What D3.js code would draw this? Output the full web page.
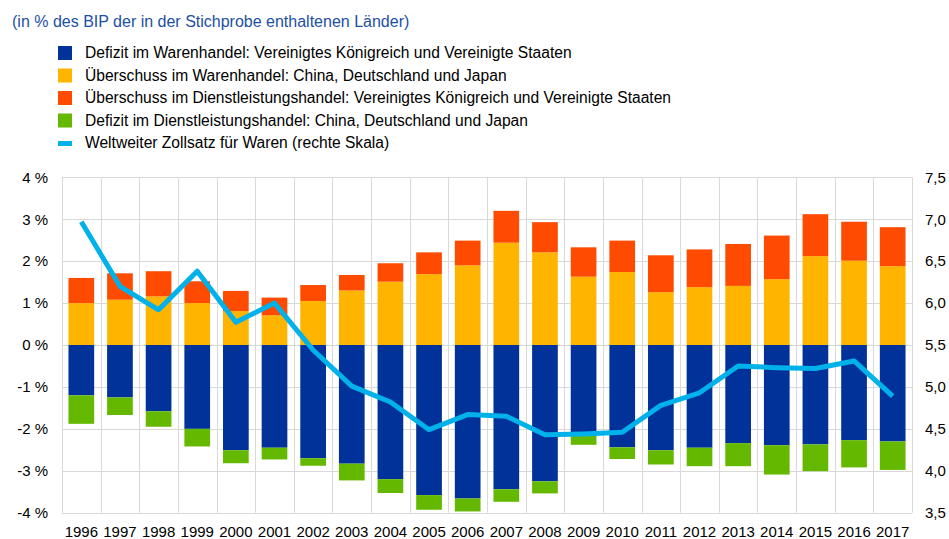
<!DOCTYPE html>
<meta charset="utf-8">
<script src="https://d3js.org/d3.v7.min.js"></script>
<style>
  body { margin: 0; background: #fff; }
  text { font-family: "Liberation Sans", Arial, sans-serif; }
</style>
<div id="chart"></div>
<script>
    // Daten
    const years = ["1996","1997","1998","1999","2000","2001","2002","2003","2004","2005","2006",
                   "2007","2008","2009","2010","2011","2012","2013","2014","2015","2016","2017"];
    const warenDefizit = [-1.20,-1.25,-1.58,-2.00,-2.51,-2.45,-2.70,-2.83,-3.20,-3.58,-3.66,
                          -3.44,-3.25,-2.16,-2.44,-2.51,-2.45,-2.34,-2.39,-2.37,-2.27,-2.30];
    const warenUeberschuss = [1.00,1.08,1.16,1.00,0.81,0.71,1.05,1.30,1.51,1.69,1.90,
                              2.44,2.21,1.63,1.74,1.26,1.38,1.41,1.57,2.12,2.01,1.88];
    const dienstUeberschuss = [0.60,0.63,0.60,0.52,0.48,0.42,0.38,0.37,0.44,0.52,0.59,
                               0.76,0.72,0.70,0.75,0.88,0.90,1.00,1.04,1.00,0.93,0.93];
    const dienstDefizit = [-0.68,-0.42,-0.37,-0.42,-0.31,-0.28,-0.18,-0.40,-0.33,-0.35,-0.31,
                           -0.30,-0.29,-0.22,-0.28,-0.34,-0.44,-0.55,-0.70,-0.64,-0.65,-0.68];
    const zollsatz = [6.97,6.20,5.92,6.38,5.77,6.00,5.44,5.01,4.82,4.49,4.67,
                      4.65,4.43,4.44,4.46,4.78,4.93,5.25,5.23,5.22,5.31,4.89];
    const leftTicks = [-4,-3,-2,-1,0,1,2,3,4];
    const rightTicks = [3.5,4.0,4.5,5.0,5.5,6.0,6.5,7.0,7.5];

    const title = "(in % des BIP der in der Stichprobe enthaltenen Länder)";
    const legendItems = [
        {label: "Defizit im Warenhandel: Vereinigtes Königreich und Vereinigte Staaten", color: "#003299", type: "rect"},
        {label: "Überschuss im Warenhandel: China, Deutschland und Japan", color: "#ffb400", type: "rect"},
        {label: "Überschuss im Dienstleistungshandel: Vereinigtes Königreich und Vereinigte Staaten", color: "#ff4b00", type: "rect"},
        {label: "Defizit im Dienstleistungshandel: China, Deutschland und Japan", color: "#65b800", type: "rect"},
        {label: "Weltweiter Zollsatz für Waren (rechte Skala)", color: "#00b1ea", type: "line"}
    ];

    const W = 949, H = 539;
    const plot = {left: 62, right: 912, top: 177.3, bottom: 512.7};

    const svg = d3.select("#chart").append("svg")
        .attr("width", W).attr("height", H);

    // Titel
    svg.append("text")
        .attr("x", 12).attr("y", 27)
        .attr("fill", "#1d4fa5")
        .style("font-size", "16px")
        .text(title);

    // Legende
    const leg = svg.append("g");
    legendItems.forEach((d, i) => {
        const y0 = 46 + i * 22.5;
        if (d.type === "rect") {
            leg.append("rect").attr("x", 58).attr("y", y0).attr("width", 14).attr("height", 14).attr("fill", d.color);
        } else {
            leg.append("rect").attr("x", 58).attr("y", y0 + 5).attr("width", 14).attr("height", 5).attr("fill", d.color);
        }
        leg.append("text").attr("x", 85).attr("y", y0 + 12.3)
            .style("font-size", "15.6px").attr("fill", "#000").text(d.label);
    });

    // Skalen
    const x = d3.scaleBand().domain(years).range([plot.left, plot.right])
        .paddingInner(0.335).paddingOuter(0.1675);
    const y = d3.scaleLinear().domain([-4, 4]).range([plot.bottom, plot.top]);
    const y2 = d3.scaleLinear().domain([3.5, 7.5]).range([plot.bottom, plot.top]);

    // Gitter
    const grid = svg.append("g").attr("stroke", "#d9d9d9").attr("stroke-width", 1);
    leftTicks.forEach(t => {
        grid.append("line").attr("x1", plot.left).attr("x2", plot.right)
            .attr("y1", Math.round(y(t)) + 0.5).attr("y2", Math.round(y(t)) + 0.5);
    });
    const step = x.step();
    d3.range(years.length + 1).forEach(i => {
        const gx = Math.round(plot.left + i * step) + 0.5;
        grid.append("line").attr("x1", gx).attr("x2", gx).attr("y1", plot.top).attr("y2", plot.bottom);
    });

    // Balken
    const series = [
        {vals: warenUeberschuss, base: () => 0, color: "#ffb400"},
        {vals: dienstUeberschuss, base: i => warenUeberschuss[i], color: "#ff4b00"},
        {vals: warenDefizit, base: () => 0, color: "#003299"},
        {vals: dienstDefizit, base: i => warenDefizit[i], color: "#65b800"}
    ];
    series.forEach(s => {
        svg.append("g").selectAll("rect").data(years).join("rect")
            .attr("x", d => x(d))
            .attr("width", x.bandwidth())
            .attr("y", (d, i) => y(Math.max(s.base(i), s.base(i) + s.vals[i])))
            .attr("height", (d, i) => Math.abs(y(s.base(i)) - y(s.base(i) + s.vals[i])))
            .attr("fill", s.color);
    });

    // Linie
    svg.append("path")
        .datum(zollsatz)
        .attr("fill", "none")
        .attr("stroke", "#00b1ea")
        .attr("stroke-width", 5)
        .attr("stroke-linejoin", "round")
        .attr("d", d3.line()
            .x((d, i) => x(years[i]) + x.bandwidth() / 2)
            .y(d => y2(d)));

    // Achsen
    const axL = svg.append("g").attr("transform", `translate(48,0)`)
        .call(d3.axisLeft(y).tickValues(leftTicks).tickSize(0).tickPadding(0)
            .tickFormat(d => d + " %"));
    const axR = svg.append("g").attr("transform", `translate(925,0)`)
        .call(d3.axisRight(y2).tickValues(rightTicks).tickSize(0).tickPadding(0)
            .tickFormat(d => d3.format(".1f")(d).replace(".", ",")));
    const axB = svg.append("g").attr("transform", `translate(0,526)`)
        .call(d3.axisBottom(x).tickSize(0).tickPadding(0));
    [axL, axR, axB].forEach(a => {
        a.select(".domain").remove();
        a.selectAll("text").style("font-size", "15px").attr("fill", "#000")
            .style("font-family", '"Liberation Sans", Arial, sans-serif');
    });
</script>
